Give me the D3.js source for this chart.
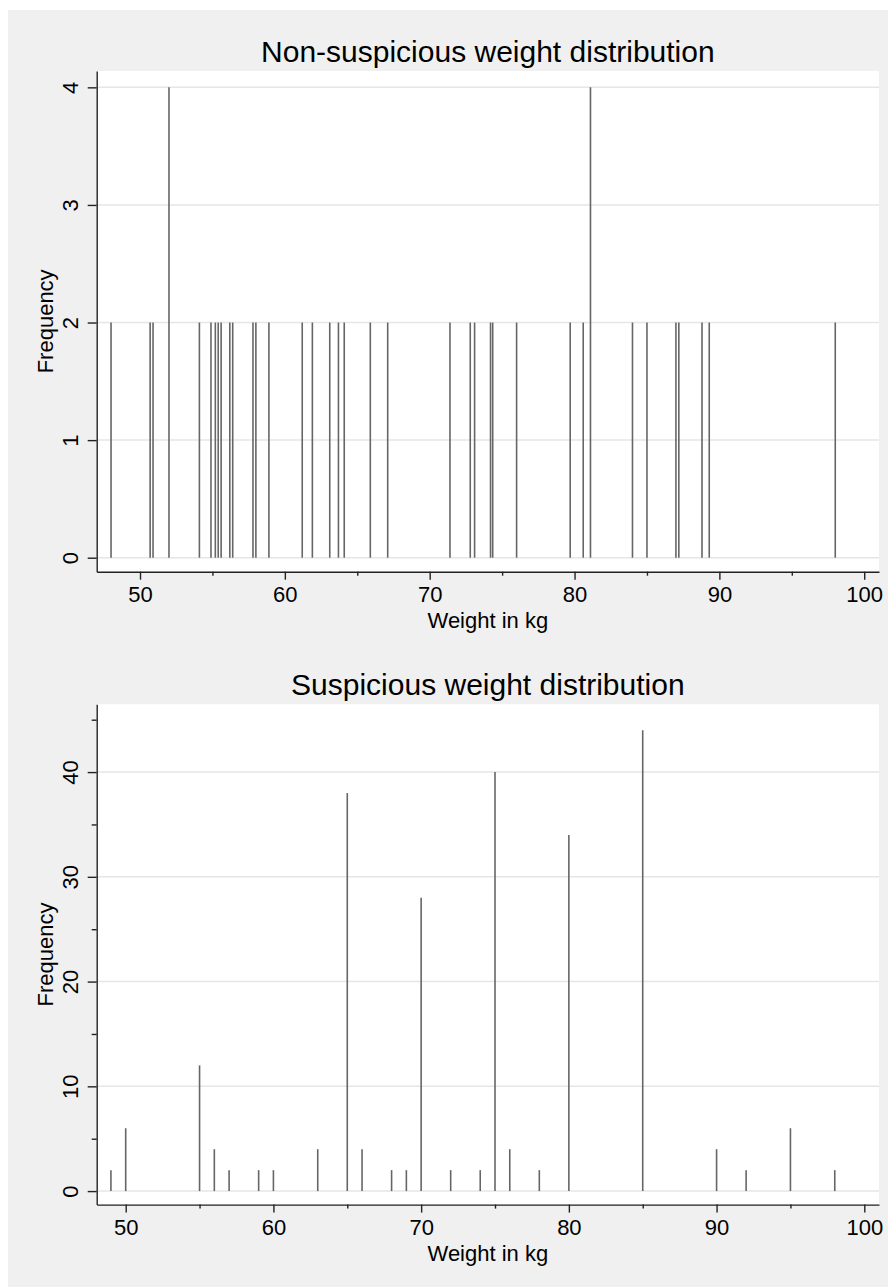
<!DOCTYPE html>
<html>
<head>
<meta charset="utf-8">
<script src="https://cdn.jsdelivr.net/npm/d3@7"></script>
<style>
  body { margin: 0; background: #fff; }
  text { font-family: "Liberation Sans", Arial, Helvetica, sans-serif; fill: #000; }
</style>
</head>
<body>
<div id="chart"></div>
<script>
// Non-suspicious weights (kg) and their frequency
const nsWeights = [48.0, 50.7, 50.9, 52.0, 54.1, 54.9, 55.2, 55.4, 55.6, 56.2, 56.4, 57.8, 58.0, 58.9,
    61.2, 61.9, 63.1, 63.7, 64.1, 65.9, 67.1, 71.4, 72.8, 73.1, 74.2, 74.35, 76.0, 79.7, 80.6, 81.1,
    84.0, 85.0, 87.0, 87.2, 88.8, 89.3, 98.0];
const nsFreq = [2, 2, 2, 4, 2, 2, 2, 2, 2, 2, 2, 2, 2, 2,
    2, 2, 2, 2, 2, 2, 2, 2, 2, 2, 2, 2, 2, 2, 2, 4,
    2, 2, 2, 2, 2, 2, 2];

// Suspicious weights (kg) and their frequency
const sWeights = [49, 50, 55, 56, 57, 59, 60, 63, 65, 66, 68, 69, 70, 72, 74, 75, 76, 78, 80, 85, 90, 92, 95, 98];
const sFreq = [2, 6, 12, 4, 2, 2, 2, 4, 38, 4, 2, 2, 28, 2, 2, 40, 4, 2, 34, 44, 4, 2, 6, 2];

// tick labels
const xMajor = [50, 60, 70, 80, 90, 100];
const xMinor = [55, 65, 75, 85, 95];
const nsYMajor = [0, 1, 2, 3, 4];
const sYMajor = [0, 10, 20, 30, 40];
const sYMinor = [5, 15, 25, 35, 45];

const W = 888, H = 1287;

const svg = d3.select("#chart")
    .append("svg")
    .attr("width", W)
    .attr("height", H);

// grey outer background
svg.append("rect")
    .attr("x", 8).attr("y", 10)
    .attr("width", W - 8).attr("height", H - 10)
    .attr("fill", "#f0f0f0");

function drawPanel(p) {
    const x = d3.scaleLinear().domain(p.xDomain).range([p.left, p.right]);
    const y = d3.scaleLinear().domain(p.yDomain).range([p.bottom, p.top]);

    const g = svg.append("g");

    // plot region
    g.append("rect")
        .attr("x", p.left).attr("y", p.top)
        .attr("width", p.right - p.left).attr("height", p.bottom - p.top)
        .attr("fill", "#fff");

    // horizontal grid
    g.append("g")
        .selectAll("line")
        .data(p.yMajor)
        .join("line")
        .attr("x1", p.left).attr("x2", p.right)
        .attr("y1", d => y(d)).attr("y2", d => y(d))
        .attr("stroke", "#e6e6e6")
        .attr("stroke-width", 1.5);

    // spikes
    g.append("g")
        .selectAll("line")
        .data(p.weights.map((w, i) => ({ w: w, f: p.freq[i] })))
        .join("line")
        .attr("x1", d => x(d.w)).attr("x2", d => x(d.w))
        .attr("y1", y(0)).attr("y2", d => y(d.f))
        .attr("stroke", "#666")
        .attr("stroke-width", 1.6);

    // x axis
    const xAx = g.append("g")
        .attr("transform", `translate(0,${p.bottom})`)
        .call(d3.axisBottom(x).tickValues(xMajor).tickSize(8).tickSizeOuter(0)
            .tickPadding(7).tickFormat(d3.format("d")));
    xAx.selectAll("text").attr("font-size", "22px").attr("font-family", null).attr("dy", "0.71em");
    g.append("g")
        .attr("transform", `translate(0,${p.bottom})`)
        .call(d3.axisBottom(x).tickValues(xMinor).tickSize(4).tickFormat(""))
        .call(a => a.select(".domain").remove());

    // y axis
    const yAx = g.append("g")
        .attr("transform", `translate(${p.left},0)`)
        .call(d3.axisLeft(y).tickValues(p.yMajor).tickSize(9).tickSizeOuter(0)
            .tickFormat(d3.format("d")));
    yAx.selectAll("text")
        .attr("font-size", "22px")
        .attr("text-anchor", "middle")
        .attr("x", 0).attr("y", -18.4).attr("dy", 0)
        .attr("transform", "rotate(-90)");
    if (p.yMinor) {
        g.append("g")
            .attr("transform", `translate(${p.left},0)`)
            .call(d3.axisLeft(y).tickValues(p.yMinor).tickSize(5).tickFormat(""))
            .call(a => a.select(".domain").remove());
    }

    g.selectAll(".domain, .tick line").attr("stroke", "#222").attr("stroke-width", 1.4);

    // titles
    g.append("text")
        .attr("x", (p.left + p.right) / 2)
        .attr("y", p.top - 9.5)
        .attr("text-anchor", "middle")
        .attr("style", "font-size: 30px")
        .text(p.title);

    g.append("text")
        .attr("x", (p.left + p.right) / 2)
        .attr("y", p.bottom + 56)
        .attr("text-anchor", "middle")
        .attr("style", "font-size: 22px")
        .text("Weight in kg");

    g.append("text")
        .attr("text-anchor", "middle")
        .attr("transform", `translate(53.3,${(p.top + p.bottom) / 2}) rotate(-90)`)
        .attr("style", "font-size: 22px")
        .text("Frequency");
}

drawPanel({
    title: "Non-suspicious weight distribution",
    left: 96.7, right: 879, top: 71, bottom: 571.7,
    xDomain: [47.01, 101.02], yDomain: [-0.119, 4.139],
    weights: nsWeights, freq: nsFreq,
    yMajor: nsYMajor
});

drawPanel({
    title: "Suspicious weight distribution",
    left: 96.7, right: 879, top: 704.3, bottom: 1204.6,
    xDomain: [48.037, 100.995], yDomain: [-1.29, 46.47],
    weights: sWeights, freq: sFreq,
    yMajor: sYMajor, yMinor: sYMinor
});
</script>
</body>
</html>
